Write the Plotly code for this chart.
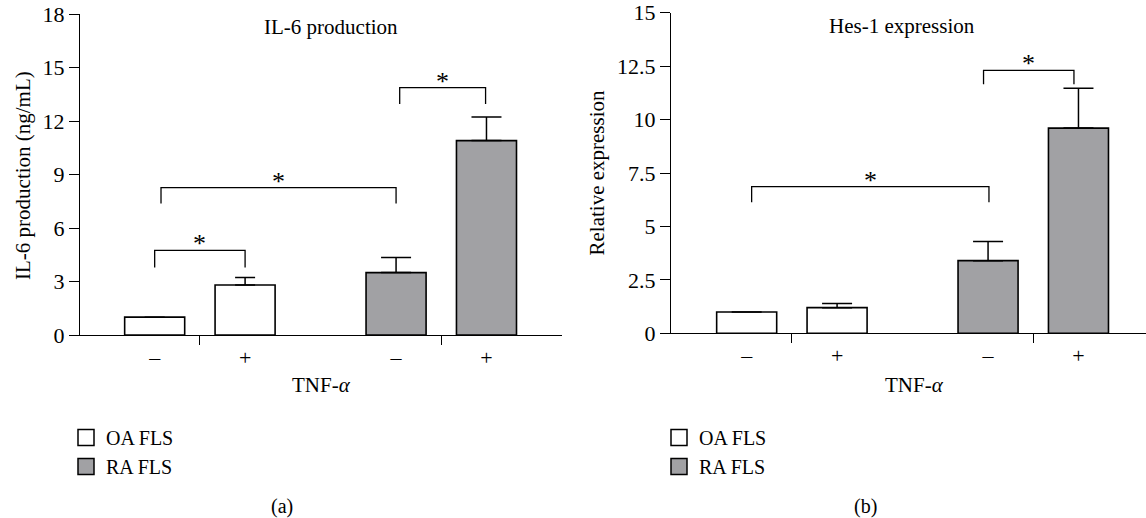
import plotly.graph_objects as go

W, H = 1146, 518

# ---------------- data ----------------
series_names = ["OA FLS", "RA FLS"]
tnf_labels = ["–", "+", "–", "+"]

il6_oa = [1.0, 2.8]
il6_oa_err = [0.0, 0.42]
il6_ra = [3.5, 10.9]
il6_ra_err = [0.84, 1.33]

hes_oa = [1.0, 1.2]
hes_oa_err = [0.0, 0.2]
hes_ra = [3.4, 9.6]
hes_ra_err = [0.9, 1.87]

# significance brackets (x in bar-slot units, y in data units)
il6_br_x0 = [0.0, 0.07, 2.71]
il6_br_x1 = [1.0, 2.67, 3.66]
il6_br_top = [4.75, 8.26, 13.87]
il6_br_bot = [3.78, 7.37, 12.96]

hes_br_x0 = [0.055, 2.62]
hes_br_x1 = [2.68, 3.62]
hes_br_top = [6.86, 12.3]
hes_br_bot = [6.13, 11.65]

# ---------------- layout constants ----------------
slot_pos = [0, 1, 2.67, 3.67]      # bar slot centres
sep_pos = [0.5, 3.17]              # separator tick positions
bar_w = 0.664
FONT = "Liberation Serif"
WHITE = "#ffffff"
GREY = "#a1a1a4"
fills = [WHITE, GREY]


def px(x):
    return x / W


def py(y):
    return 1 - y / H


fig = go.Figure()


def add_panel(xa, ya, oa, oa_err, ra, ra_err, legend, cap_oa, cap_ra):
    fig.add_trace(go.Bar(
        x=slot_pos[:2], y=oa, width=bar_w, name=series_names[0],
        marker=dict(color=WHITE, line=dict(color="black", width=1.6)),
        error_y=dict(type="data", array=oa_err, arrayminus=[0] * len(oa),
                     symmetric=False, color="black", thickness=1.5, width=cap_oa),
        xaxis=xa, yaxis=ya, showlegend=False, hoverinfo="skip"))
    fig.add_trace(go.Bar(
        x=slot_pos[2:], y=ra, width=bar_w, name=series_names[1],
        marker=dict(color=GREY, line=dict(color="black", width=1.6)),
        error_y=dict(type="data", array=ra_err, arrayminus=[0] * len(ra),
                     symmetric=False, color="black", thickness=1.5, width=cap_ra),
        xaxis=xa, yaxis=ya, showlegend=False, hoverinfo="skip"))
    # legend entries (larger square swatches)
    for name, col in zip(series_names, fills):
        fig.add_trace(go.Scatter(
            x=[None], y=[None], mode="markers", name=name,
            marker=dict(symbol="square", size=16, color=col,
                        line=dict(color="black", width=1.5)),
            xaxis=xa, yaxis=ya, legend=legend, hoverinfo="skip"))


def add_brackets(xa, ya, x0s, x1s, tops, bots):
    for x0, x1, t, b in zip(x0s, x1s, tops, bots):
        fig.add_trace(go.Scatter(
            x=[x0, x0, x1, x1], y=[b, t, t, b], mode="lines",
            line=dict(color="black", width=1.3), showlegend=False,
            hoverinfo="skip", xaxis=xa, yaxis=ya))
        fig.add_annotation(
            x=(x0 + x1) / 2, y=t, xref=xa, yref=ya,
            text="*", showarrow=False, yanchor="bottom", yshift=-10,
            font=dict(family=FONT, size=26, color="black"))


add_panel("x", "y", il6_oa, il6_oa_err, il6_ra, il6_ra_err, "legend", 10, 15)
add_panel("x2", "y2", hes_oa, hes_oa_err, hes_ra, hes_ra_err, "legend2", 15, 15)
add_brackets("x", "y", il6_br_x0, il6_br_x1, il6_br_top, il6_br_bot)
add_brackets("x2", "y2", hes_br_x0, hes_br_x1, hes_br_top, hes_br_bot)

tickfont = dict(family=FONT, size=22, color="black")

xcommon = dict(
    showline=True, linecolor="black", linewidth=1.3, showgrid=False, zeroline=False,
    tickmode="array", tickvals=slot_pos, ticktext=tnf_labels, ticks="",
    tickfont=tickfont, ticklabelstandoff=2, automargin=False,
    minor=dict(tickmode="array", tickvals=sep_pos, ticks="outside", ticklen=9,
               tickwidth=1.3, tickcolor="black", showgrid=False),
    fixedrange=True,
)
ycommon = dict(
    showline=True, linecolor="black", linewidth=1.3, showgrid=False, zeroline=False,
    ticks="outside", ticklen=10, tickwidth=1.3, tickcolor="black", tickfont=tickfont,
    automargin=False, fixedrange=True,
)

legend_font = dict(family=FONT, size=20, color="black")

fig.update_layout(
    width=W, height=H, autosize=False,
    margin=dict(l=0, r=0, t=0, b=0, pad=0, autoexpand=False),
    paper_bgcolor="white", plot_bgcolor="white",
    font=dict(family=FONT, size=21, color="black"),
    barmode="overlay",
    xaxis=dict(xcommon, domain=[px(80), px(561.7)], range=[-0.826, 4.502], anchor="y"),
    yaxis=dict(ycommon, domain=[py(335), py(14)], range=[0, 18], dtick=3, anchor="x"),
    xaxis2=dict(xcommon, domain=[px(671), 1.0], range=[-0.837, 4.417], anchor="y2"),
    yaxis2=dict(ycommon, domain=[py(333.3), py(12.7)], range=[0, 15], dtick=2.5, anchor="x2"),
    legend=dict(x=px(66), y=py(418), xanchor="left", yanchor="top", font=legend_font,
                bgcolor="rgba(0,0,0,0)", tracegroupgap=0, itemsizing="trace"),
    legend2=dict(x=px(659), y=py(418), xanchor="left", yanchor="top", font=legend_font,
                 bgcolor="rgba(0,0,0,0)", tracegroupgap=0, itemsizing="trace"),
    showlegend=True,
)

texts = [
    ("IL-6 production", 331, 27, 0, 21),
    ("Hes-1 expression", 902, 26, 0, 21),
    ("IL-6 production (ng/mL)", 23, 176, -90, 21),
    ("Relative expression", 596.5, 173, -90, 21),
    ("TNF-<i>α</i>", 321, 385, 0, 21),
    ("TNF-<i>α</i>", 914, 385, 0, 21),
    ("(a)", 282, 506, 0, 20),
    ("(b)", 865, 506, 0, 20),
]
for t, x, y, ang, fs in texts:
    fig.add_annotation(x=px(x), y=py(y), xref="paper", yref="paper", text=t,
                       showarrow=False, xanchor="center", yanchor="middle",
                       textangle=ang, font=dict(family=FONT, size=fs, color="black"))

fig.write_html("out.html", config={"displayModeBar": False},
               post_script="document.body.style.margin='0px';")
